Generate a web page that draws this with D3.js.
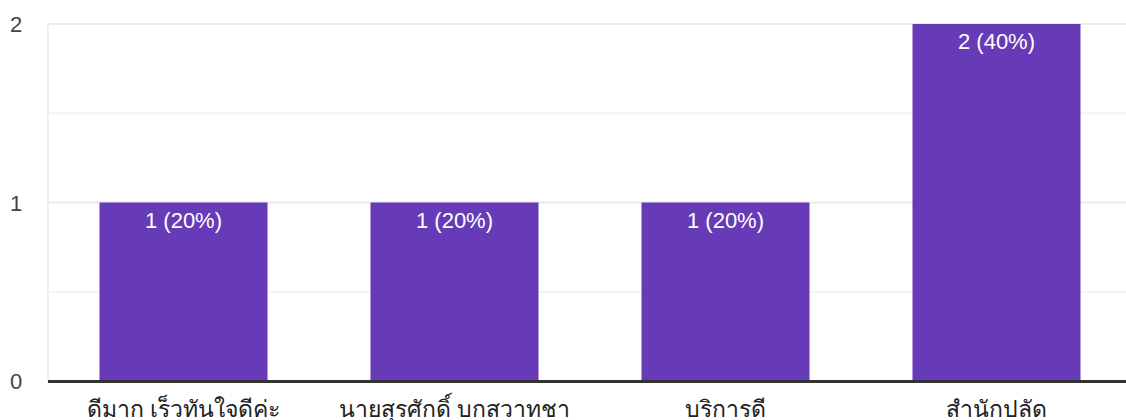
<!DOCTYPE html>
<html>
<head>
<meta charset="utf-8">
<script src="https://cdn.jsdelivr.net/npm/d3@7"></script>
<style>
  body { margin: 0; background: #fff; }
  text { font-family: "Liberation Sans", Arial, sans-serif; }
  .xlabel { font-family: Roboto, sans-serif; }
</style>
</head>
<body>
<div id="chart"></div>
<script>
var categories = ["ดีมาก เร็วทันใจดีค่ะ", "นายสุรศักดิ์ บกสวาทชา", "บริการดี", "สำนักปลัด"];
var counts = [1, 1, 1, 2];
var percents = ["20%", "20%", "20%", "40%"];
var y_ticks = [0, 1, 2];
var y_grid = [0.5, 1, 1.5, 2];

var width = 1126;
var height = 420;
var plot_left = 48;
var plot_right = 1132;
var plot_top = 24;
var plot_bottom = 381;
var bar_color = "#673ab7";

var svg = d3.select("#chart").append("svg")
    .attr("width", width)
    .attr("height", height);

var x = d3.scaleBand()
    .domain(categories)
    .range([plot_left, plot_right])
    .paddingInner(0.38)
    .paddingOuter(0.19);

var y = d3.scaleLinear()
    .domain([0, 2])
    .range([plot_bottom, plot_top]);

// gridlines
svg.append("g").selectAll("line")
    .data(y_grid)
    .enter().append("line")
    .attr("x1", plot_left)
    .attr("x2", width)
    .attr("y1", function (d) { return y(d); })
    .attr("y2", function (d) { return y(d); })
    .attr("stroke", function (d) { return d % 1 == 0 ? "#ebebeb" : "#f4f4f4"; })
    .attr("stroke-width", 2);

svg.append("line")
    .attr("x1", plot_left)
    .attr("x2", plot_left)
    .attr("y1", plot_top)
    .attr("y2", plot_bottom)
    .attr("stroke", "#f0f0f0")
    .attr("stroke-width", 2);

// y tick labels
svg.append("g").selectAll("text")
    .data(y_ticks)
    .enter().append("text")
    .attr("x", 10)
    .attr("y", function (d) { return y(d) + 8; })
    .attr("font-size", 22)
    .attr("fill", "#444")
    .text(function (d) { return d; });

// bars
var bars = svg.append("g").selectAll("g")
    .data(categories)
    .enter().append("g");

bars.append("rect")
    .attr("x", function (d) { return x(d); })
    .attr("y", function (d, i) { return y(counts[i]); })
    .attr("width", x.bandwidth())
    .attr("height", function (d, i) { return plot_bottom - y(counts[i]); })
    .attr("fill", bar_color);

bars.append("text")
    .attr("x", function (d) { return x(d) + x.bandwidth() / 2; })
    .attr("y", function (d, i) { return y(counts[i]) + 25; })
    .attr("text-anchor", "middle")
    .attr("font-size", 22)
    .attr("fill", "#fff")
    .text(function (d, i) { return counts[i] + " (" + percents[i] + ")"; });

// baseline
svg.append("line")
    .attr("x1", plot_left)
    .attr("x2", width)
    .attr("y1", plot_bottom + 0.5)
    .attr("y2", plot_bottom + 0.5)
    .attr("stroke", "#333")
    .attr("stroke-width", 3);

// x labels
svg.append("g").selectAll("text")
    .data(categories)
    .enter().append("text")
    .attr("class", "xlabel")
    .attr("x", function (d) { return x(d) + x.bandwidth() / 2; })
    .attr("y", 417)
    .attr("text-anchor", "middle")
    .attr("font-size", 23)
    .attr("fill", "#222")
    .text(function (d) { return d; });
</script>
</body>
</html>
